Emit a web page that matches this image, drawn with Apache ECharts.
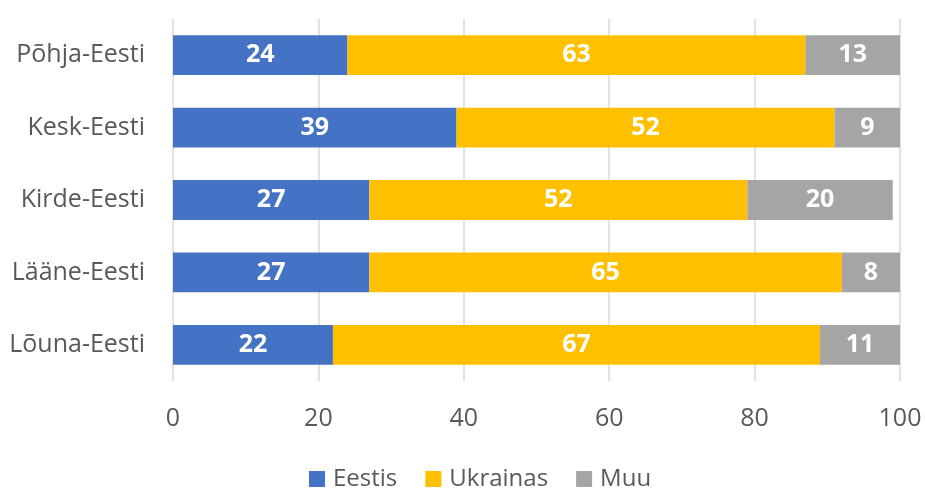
<!DOCTYPE html>
<html>
<head>
<meta charset="utf-8">
<script src="https://cdn.jsdelivr.net/npm/echarts@6/dist/echarts.min.js"></script>
<style>
  html, body { margin: 0; padding: 0; background: #fff; }
  #chart { width: 925px; height: 488px; }
</style>
</head>
<body>
<div id="chart"></div>
<script>
const regions = ['Põhja-Eesti', 'Kesk-Eesti', 'Kirde-Eesti', 'Lääne-Eesti', 'Lõuna-Eesti']
const eestis = [24, 39, 27, 27, 22]
const ukrainas = [63, 52, 52, 65, 67]
const muu = [13, 9, 20, 8, 11]

const font = '"Open Sans", "Noto Sans", sans-serif'

function barSeries(name, data, color) {
  return {
    name: name,
    type: 'bar',
    stack: 'total',
    data: data,
    barCategoryGap: '45%',
    itemStyle: { color: color },
    label: {
      show: true,
      position: 'inside',
      color: '#fff',
      fontWeight: 'bold',
      fontSize: 25,
      fontFamily: font
    }
  }
}

const chart = echarts.init(document.getElementById('chart'))
chart.setOption({
  animation: false,
  textStyle: { fontFamily: font },
  grid: { left: 173, right: 25, top: 19, bottom: 107 },
  legend: {
    bottom: -8,
    left: 304,
    itemWidth: 16,
    itemHeight: 16,
    itemGap: 28,
    icon: 'rect',
    textStyle: { fontSize: 24, color: '#595959', fontFamily: font, padding: [0, 0, 0, 3] }
  },
  xAxis: {
    type: 'value',
    min: 0,
    max: 100,
    interval: 20,
    axisLine: { show: false },
    axisTick: { show: false },
    axisLabel: { fontSize: 25, color: '#595959', margin: 25, fontFamily: font },
    splitLine: { lineStyle: { color: '#d9d9d9', width: 1.5 } }
  },
  yAxis: {
    type: 'category',
    data: regions,
    inverse: true,
    axisLine: { show: false },
    axisTick: { show: false },
    axisLabel: { fontSize: 25, color: '#595959', margin: 28, fontFamily: font }
  },
  series: [
    barSeries('Eestis', eestis, '#4472c4'),
    barSeries('Ukrainas', ukrainas, '#ffc000'),
    barSeries('Muu', muu, '#a5a5a5')
  ]
})
</script>
</body>
</html>
